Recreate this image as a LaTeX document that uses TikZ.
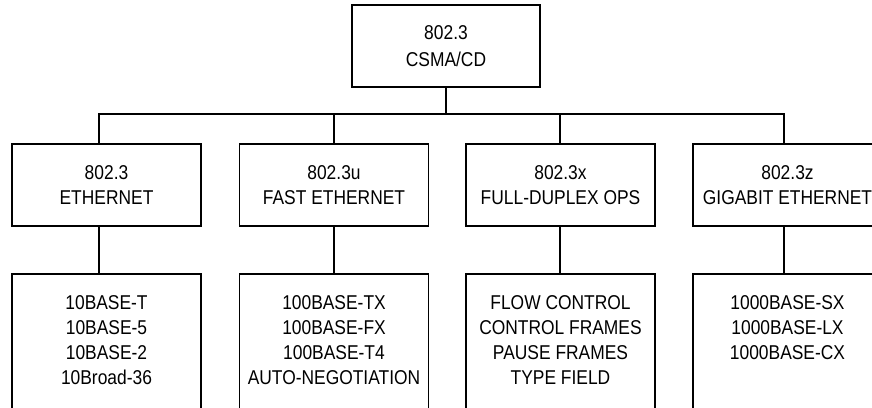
\documentclass[tikz,border=0pt]{standalone}
\usepackage{fontspec}
\setmainfont[FakeStretch=0.87]{Liberation Sans}
\begin{document}
\begin{tikzpicture}[x=1pt,y=-1pt,
  box/.style={draw=black, line width=1.8pt, minimum width=189pt, inner sep=0pt},
  head/.style={box, minimum height=82pt, align=center},
  leaf/.style={box, minimum height=166pt},
  txt/.style={align=center, inner sep=0pt},
  wire/.style={draw=black, line width=1.8pt}]
\useasboundingbox (0,0) rectangle (872,407);
\clip (0,0) rectangle (872,407);
\fontsize{20}{25}\selectfont
\node[head, minimum width=188pt] (top) at (446,46) {802.3\\[2pt]CSMA/CD};
\node[head] (m1) at (106.5,185) {802.3\\ETHERNET};
\node[head] (m2) at (334,185) {802.3u\\FAST ETHERNET};
\node[head] (m3) at (560.5,185) {802.3x\\FULL-DUPLEX OPS};
\node[head] (m4) at (787.5,185) {802.3z\\GIGABIT ETHERNET};
\node[leaf] (b1) at (106.5,357) {};
\node[leaf] (b2) at (334,357) {};
\node[leaf] (b3) at (560.5,357) {};
\node[leaf] (b4) at (787.5,357) {};
\node[txt, anchor=north] (t1) at ([yshift=-22pt]b1.north) {10BASE-T\\10BASE-5\\10BASE-2\\10Broad-36};
\node[txt, anchor=north] (t2) at ([yshift=-22pt]b2.north) {100BASE-TX\\100BASE-FX\\100BASE-T4\\AUTO-NEGOTIATION};
\node[txt, anchor=north] (t3) at ([yshift=-22pt]b3.north) {FLOW CONTROL\\CONTROL FRAMES\\PAUSE FRAMES\\TYPE FIELD};
\node[txt, anchor=north] (t4) at ([yshift=-22pt]b4.north) {1000BASE-SX\\1000BASE-LX\\1000BASE-CX};
\coordinate (bus) at (446,114);
\draw[wire] (top.south) -- (bus);
\draw[wire] ([xshift=-7.5pt]m1.north) |- (bus) -| ([xshift=-3.5pt]m4.north);
\draw[wire] (m2.north) -- (m2.north |- bus);
\draw[wire] ([xshift=-0.5pt]m3.north) -- ([xshift=-0.5pt]m3.north |- bus);
\draw[wire] ([xshift=-7.5pt]m1.south) -- ([xshift=-7.5pt]b1.north);
\draw[wire] (m2.south) -- (b2.north);
\draw[wire] ([xshift=-0.5pt]m3.south) -- ([xshift=-0.5pt]b3.north);
\draw[wire] ([xshift=-3.5pt]m4.south) -- ([xshift=-3.5pt]b4.north);
\end{tikzpicture}
\end{document}
